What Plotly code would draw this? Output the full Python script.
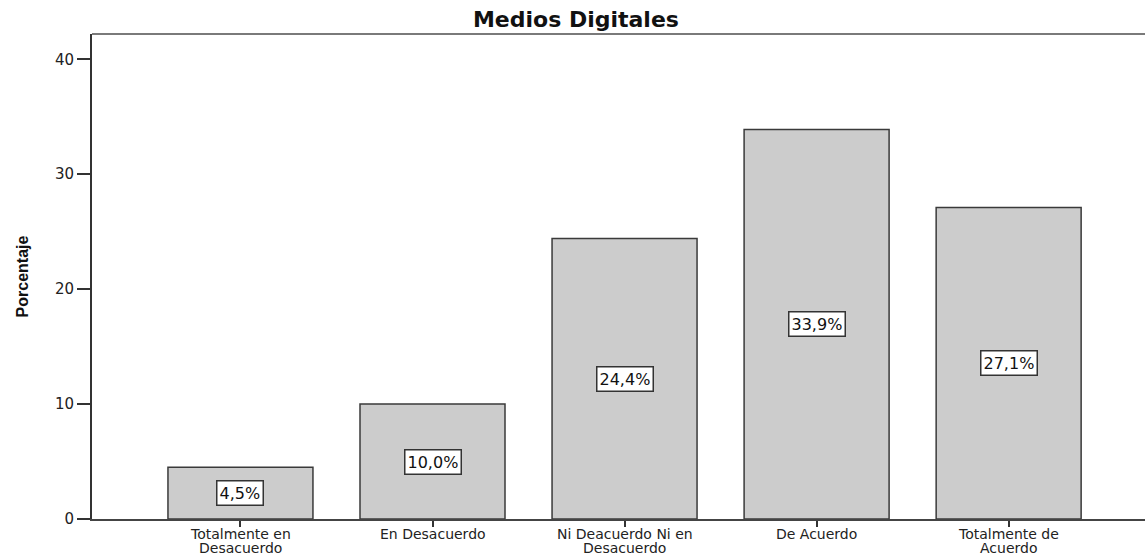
import plotly.graph_objects as go

# Survey responses for "Medios Digitales" (percentage of respondents)
categories = [
    "Totalmente en<br>Desacuerdo",
    "En Desacuerdo",
    "Ni Deacuerdo Ni en<br>Desacuerdo",
    "De Acuerdo",
    "Totalmente de<br>Acuerdo",
]
percentages = [4.5, 10.0, 24.4, 33.9, 27.1]
value_labels = ["4,5%", "10,0%", "24,4%", "33,9%", "27,1%"]
y_ticks = [0, 10, 20, 30, 40]

FONT = "DejaVu Sans, Verdana, sans-serif"
x_pos = list(range(len(categories)))

fig = go.Figure(
    go.Bar(
        x=x_pos,
        y=percentages,
        width=0.755,
        marker=dict(color="#cccccc", line=dict(color="#3a3a3a", width=1.5)),
        hoverinfo="skip",
    )
)

# Boxed value labels centred in each bar
for xi, v, lab in zip(x_pos, percentages, value_labels):
    fig.add_annotation(
        x=xi, y=v / 2, text=lab, showarrow=False,
        font=dict(family=FONT, size=16, color="#111111"),
        bgcolor="white", bordercolor="#333333", borderwidth=1.5, borderpad=2,
    )

# Category names under the tick marks, one annotation per line so the
# line spacing stays tight enough to fit below the axis
LINE_STEP = 14
for xi, cat in zip(x_pos, categories):
    for k, line in enumerate(cat.split("<br>")):
        fig.add_annotation(
            x=xi, xref="x", y=0, yref="paper", yanchor="middle",
            yshift=-15 - k * LINE_STEP,
            text=line, showarrow=False, align="center",
            font=dict(family=FONT, size=14, color="#222222"),
        )

# Top frame line of the chart box
fig.add_shape(
    type="line", xref="paper", yref="paper", x0=0, x1=1, y0=1, y1=1,
    line=dict(color="#7a7a7a", width=2),
)

fig.update_layout(
    width=1145, height=555,
    margin=dict(l=92, r=0, t=34, b=36),
    paper_bgcolor="white", plot_bgcolor="white",
    showlegend=False,
    title=dict(
        text="<b>Medios Digitales</b>", x=0.503, xanchor="center",
        y=0.966, yanchor="middle",
        font=dict(family=FONT, size=22, color="#111111"),
    ),
    font=dict(family=FONT, size=14, color="#222222"),
)

fig.update_xaxes(
    range=[-0.773, 4.71],
    tickmode="array", tickvals=x_pos, showticklabels=False,
    ticks="outside", ticklen=6, tickwidth=2, tickcolor="#333333",
    showline=True, linecolor="#444444", linewidth=2,
    showgrid=False, zeroline=False, automargin=False,
)

fig.update_yaxes(
    range=[0, 42.2],
    tickmode="array", tickvals=y_ticks,
    ticks="outside", ticklen=13, tickwidth=2, tickcolor="#333333",
    showline=True, linecolor="#333333", linewidth=2,
    showgrid=False, zeroline=False, automargin=False,
    tickfont=dict(family=FONT, size=15, color="#222222"),
    title=dict(
        text="<b>Porcentaje</b>", standoff=22,
        font=dict(family="Liberation Sans Narrow, Arial Narrow, Liberation Sans, sans-serif",
                  size=16, color="#111111"),
    ),
)

fig.write_html("out.html")
